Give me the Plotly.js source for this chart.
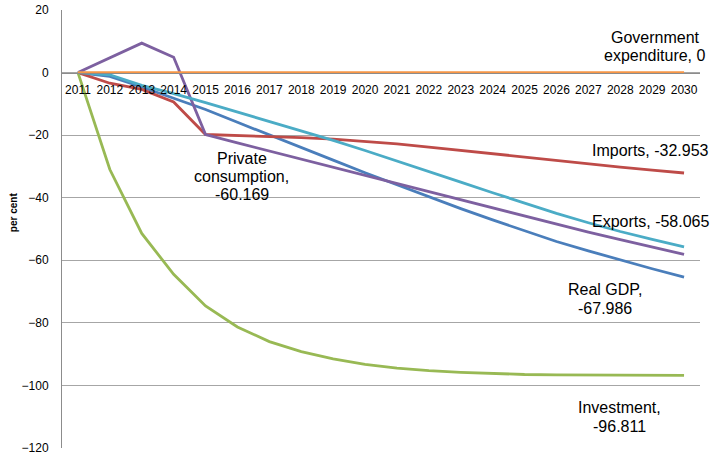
<!DOCTYPE html>
<html>
<head>
<meta charset="utf-8">
<script src="https://cdn.plot.ly/plotly-3.0.1.min.js"></script>
<style>html,body{margin:0;padding:0;background:#fff;}#chart{width:714px;height:458px;}</style>
</head>
<body>
<div id="chart"></div>
<script>
// ---- data ----
var years = ["2011","2012","2013","2014","2015","2016","2017","2018","2019","2020",
             "2021","2022","2023","2024","2025","2026","2027","2028","2029","2030"];

var realGDP = [0,-1.2,-4.6,-8.3,-11.8,-15.9,-20.0,-24.0,-28.0,-32.0,
               -35.9,-39.7,-43.5,-47.1,-50.6,-54.0,-57.0,-59.9,-62.7,-65.4];
var imports = [0,-3.4,-5.4,-9.4,-19.8,-20.1,-20.4,-20.8,-21.3,-22.0,
               -22.8,-23.8,-24.9,-26.0,-27.1,-28.2,-29.2,-30.2,-31.2,-32.1];
var investment = [0,-31.0,-51.4,-64.5,-74.6,-81.3,-86.0,-89.2,-91.5,-93.3,
                  -94.5,-95.3,-95.8,-96.2,-96.5,-96.6,-96.7,-96.8,-96.8,-96.811];
var privateConsumption = [0,4.7,9.4,4.9,-19.8,-22.5,-25.1,-27.7,-30.3,-32.9,
                          -35.4,-38.1,-40.8,-43.4,-46.0,-48.5,-51.0,-53.4,-55.8,-58.1];
var exportsS = [0,-0.7,-4.1,-6.7,-9.6,-12.6,-15.6,-18.6,-21.7,-24.9,
                -28.2,-31.6,-35.0,-38.4,-41.8,-45.0,-48.0,-50.8,-53.3,-55.7];
var govExpenditure = [0,0,0,0,0,0,0,0,0,0,0,0,0,0,0,0,0,0,0,0];

var seriesNames = ["Real GDP","Imports","Investment","Private consumption","Exports","Government expenditure"];
var yTickVals = [20,0,-20,-40,-60,-80,-100,-120];

// label texts (lines)
var labelLines = [
  ["Government","expenditure, 0"],
  ["Imports, -32.953"],
  ["Exports, -58.065"],
  ["Real GDP,","-67.986"],
  ["Investment,","-96.811"],
  ["Private","consumption,","-60.169"]
];

// ---- styles / layout ----
var colors = ["#4A7EBB","#BE4B48","#98B954","#7D60A0","#4BACC6","#F79646"];
var seriesData = [realGDP, imports, investment, privateConsumption, exportsS, govExpenditure];

var traces = seriesData.map(function(d,i){
  return {x: years, y: d, type:"scatter", mode:"lines", name: seriesNames[i],
          line:{color:colors[i], width:2.8}, hoverinfo:"skip"};
});

// plot area in pixels
var L = 62, R = 700, T = 10, B = 447.7;
function px(x){ return (x - L)/(R - L); }
function py(y){ return (B - y)/(B - T); }

// label line pixel positions (centre x, centre y)
var labelPos = [
  [[655,37],[655,55]],
  [[650,150]],
  [[651,221]],
  [[605,289],[605,308]],
  [[619,407],[619,426]],
  [[242,158],[242,176],[242,194]]
];

var annotations = [];
labelLines.forEach(function(lines,i){
  lines.forEach(function(t,j){
    annotations.push({xref:"paper", yref:"paper", x:px(labelPos[i][j][0]), y:py(labelPos[i][j][1]),
      text:t, showarrow:false, xanchor:"center", yanchor:"middle",
      font:{family:"Liberation Sans, Arial, sans-serif", size:16, color:"#000"}});
  });
});
annotations.push({xref:"paper", yref:"paper", x:px(13), y:py(212), text:"<b>per cent</b>",
  textangle:-90, showarrow:false, xanchor:"center", yanchor:"middle",
  font:{family:"Liberation Sans, Arial, sans-serif", size:10, color:"#000"}});

var layout = {
  width:714, height:458,
  margin:{l:L, r:714-R, t:T, b:458-B, pad:0},
  paper_bgcolor:"#fff", plot_bgcolor:"#fff",
  showlegend:false,
  xaxis:{type:"category", anchor:"free", position:(0-(-120))/140,
         showgrid:false, showline:true, linecolor:"#8c8c8c", linewidth:1,
         ticks:"", ticklabelstandoff:6,
         tickfont:{family:"Liberation Sans, Arial, sans-serif", size:12, color:"#000"},
         zeroline:false, range:[-0.5,19.5], fixedrange:true},
  yaxis:{range:[-120,20], tickvals:yTickVals, showgrid:true, gridcolor:"#a6a6a6", gridwidth:1,
         showline:true, linecolor:"#8c8c8c", linewidth:1, zeroline:false,
         ticks:"", ticklabelstandoff:10,
         tickfont:{family:"Liberation Sans, Arial, sans-serif", size:12, color:"#000"}},
  annotations:annotations
};

Plotly.newPlot("chart", traces, layout, {displayModeBar:false, staticPlot:true});
</script>
</body>
</html>
